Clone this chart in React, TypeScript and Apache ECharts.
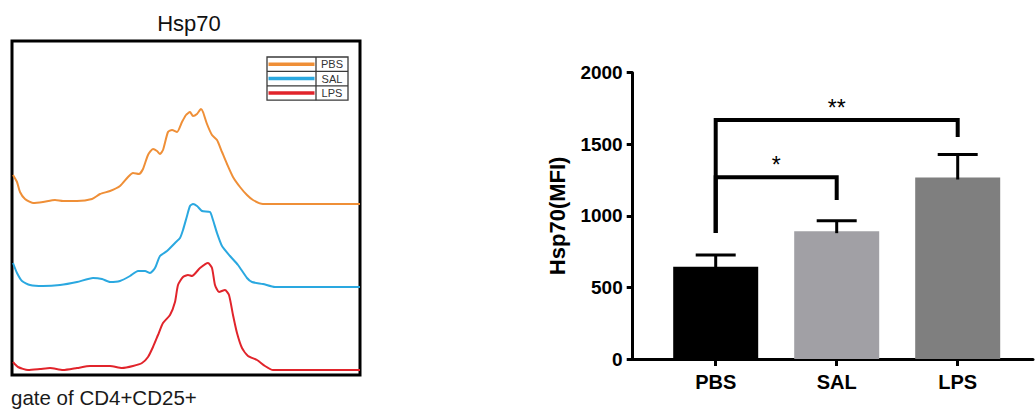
import React, { useEffect, useRef } from 'react';
import * as echarts from 'echarts';

// ---------- data ----------
const groups = ['PBS', 'SAL', 'LPS'];
const histColors = ['#ef8f37', '#2aa8e0', '#e1242b'];
// vertical offsets of each overlaid histogram (count units)
const histOffsets = [172, 89, 6];
// [channel, count above own baseline]
const pbsHist = [
  [2, 29], [6, 22], [9, 12], [14, 5], [22, 1], [32, 2], [44, 4], [52, 3], [66, 3], [81, 5], [89, 10],
  [99, 13], [109, 18], [117, 27], [122, 31], [128, 30], [132, 35], [137, 49], [142, 55], [146, 53],
  [149, 50], [152, 54], [157, 72], [161, 74], [166, 72], [171, 82], [175, 89], [179, 92], [182, 88],
  [186, 90], [190, 95], [192, 92], [196, 80], [201, 69], [206, 64], [211, 52], [216, 40], [222, 27],
  [229, 17], [236, 9], [242, 4], [252, 0], [349, 0],
];
const salHist = [
  [2, 24], [6, 14], [11, 6], [19, 2], [32, 1], [49, 2], [66, 5], [82, 9], [91, 8], [99, 5], [109, 6],
  [119, 11], [127, 16], [134, 16], [139, 14], [144, 19], [149, 31], [156, 36], [164, 44], [169, 49],
  [172, 57], [176, 71], [179, 81], [182, 83], [186, 81], [191, 76], [199, 75], [202, 67], [206, 54],
  [211, 41], [219, 31], [227, 22], [236, 9], [241, 5], [252, 3], [264, 0], [349, 0],
];
const lpsHist = [
  [2, 8], [7, 3], [17, 0], [29, 1], [39, 2], [52, 0], [66, 2], [79, 4], [89, 4], [99, 4], [111, 2],
  [122, 4], [131, 7], [137, 13], [142, 23], [147, 35], [152, 47], [159, 55], [164, 68], [167, 85],
  [172, 93], [177, 95], [181, 94], [189, 102], [197, 107], [201, 102], [204, 85], [208, 78], [214, 80],
  [218, 75], [222, 55], [226, 37], [231, 22], [237, 14], [246, 10], [254, 4], [262, 0], [349, 0],
];
const histograms = [pbsHist, salHist, lpsHist];

const barValues = [644, 893, 1268];
const barErrors = [82, 72, 160];
const barColors = ['#000000', '#a1a0a5', '#7f7f7f'];

const yMin = 0;
const yMax = 2000;
const yInterval = 500;

// significance brackets: [left group, right group]
const sigPairs = [[0, 1], [0, 2]];
const sigLevels = [1270, 1670];
const sigLeftEnds = [880, 880];
const sigRightEnds = [1110, 1550];
const sigLabels = ['*', '**'];
const sigLabelY = [1355, 1755];

const FONT = '"Liberation Sans", Arial, Helvetica, sans-serif';

export default function App() {
  const ref = useRef<HTMLDivElement>(null);

  useEffect(() => {
    if (!ref.current) return;
    const chart = echarts.init(ref.current, undefined, { renderer: 'svg' });

    const lineSeries = histograms.map((h, i) => ({
      name: groups[i],
      type: 'line',
      xAxisIndex: 0,
      yAxisIndex: 0,
      data: h.map(([x, c]) => [x, c + histOffsets[i]]),
      symbol: 'none',
      smooth: 0.2,
      lineStyle: { color: histColors[i], width: 2 },
      z: 2,
    }));

    const errorData = barValues.map((v, i) => [i, v, v + barErrors[i]]);
    const bracketData = sigPairs.map((p, i) => [p[0], p[1], sigLevels[i], sigLeftEnds[i], sigRightEnds[i], sigLabelY[i]]);

    const rowH = 14.4;
    const lgX = 267;
    const lgY = 57;
    const lgW = 81;
    const divX = 316;
    const legendEls: any[] = [
      {
        type: 'rect',
        shape: { x: lgX, y: lgY, width: lgW, height: rowH * 3 },
        style: { fill: '#ffffff', stroke: '#3a3a3a', lineWidth: 1.3 },
        z: 10,
      },
      {
        type: 'line',
        shape: { x1: divX, y1: lgY, x2: divX, y2: lgY + rowH * 3 },
        style: { stroke: '#3a3a3a', lineWidth: 1.3 },
        z: 11,
      },
    ];
    groups.forEach((g, i) => {
      if (i > 0) {
        legendEls.push({
          type: 'line',
          shape: { x1: lgX, y1: lgY + rowH * i, x2: lgX + lgW, y2: lgY + rowH * i },
          style: { stroke: '#3a3a3a', lineWidth: 1.3 },
          z: 11,
        });
      }
      const cy = lgY + rowH * (i + 0.5);
      legendEls.push({
        type: 'line',
        shape: { x1: lgX + 1.5, y1: cy, x2: divX - 1.5, y2: cy },
        style: { stroke: histColors[i], lineWidth: 3.5 },
        z: 12,
      });
      legendEls.push({
        type: 'text',
        x: (divX + lgX + lgW) / 2,
        y: cy,
        style: {
          text: g,
          fontSize: 11,
          fontFamily: FONT,
          fill: '#333333',
          textAlign: 'center',
          textVerticalAlign: 'middle',
        },
        z: 12,
      });
    });

    const option: any = {
      animation: false,
      backgroundColor: '#ffffff',
      textStyle: { fontFamily: FONT },
      grid: [
        { left: 12, top: 41, width: 348, height: 334, show: true, borderColor: '#000', borderWidth: 3, backgroundColor: 'transparent' },
        { left: 655.2, top: 72.7, width: 363, height: 286.3 },
        { left: 632.7, top: 72.7, width: 400.3, height: 286.3 },
      ],
      xAxis: [
        { type: 'value', gridIndex: 0, min: 1, max: 349, show: false },
        {
          type: 'category',
          gridIndex: 1,
          data: groups,
          axisLine: { show: false },
          axisTick: { show: true, alignWithLabel: true, length: 7, lineStyle: { color: '#000', width: 3 } },
          axisLabel: { color: '#000', fontSize: 20, fontWeight: 'bold', fontFamily: FONT, margin: 13 },
        },
        {
          type: 'value',
          gridIndex: 2,
          min: 0,
          max: 1,
          axisLine: { show: true, lineStyle: { color: '#000', width: 3 } },
          axisTick: { show: false },
          axisLabel: { show: false },
          splitLine: { show: false },
        },
      ],
      yAxis: [
        { type: 'value', gridIndex: 0, min: 1, max: 335, show: false },
        { type: 'value', gridIndex: 1, min: yMin, max: yMax, show: false },
        {
          type: 'value',
          gridIndex: 2,
          min: yMin,
          max: yMax,
          interval: yInterval,
          name: 'Hsp70(MFI)',
          nameLocation: 'middle',
          nameRotate: 90,
          nameGap: 64,
          nameTextStyle: { color: '#000', fontSize: 22, fontWeight: 'bold', fontFamily: FONT },
          axisLine: { show: true, lineStyle: { color: '#000', width: 3 } },
          axisTick: { show: true, length: 6, lineStyle: { color: '#000', width: 3 } },
          axisLabel: {
            color: '#000',
            fontSize: 19,
            fontWeight: 'bold',
            fontFamily: FONT,
            margin: 10,
            formatter: (v: number) => String(v),
          },
          splitLine: { show: false },
        },
      ],
      graphic: [
        {
          type: 'text',
          x: 189,
          y: 23,
          style: { text: 'Hsp70', fontSize: 22, fontFamily: FONT, fill: '#111', textAlign: 'center', textVerticalAlign: 'middle' },
        },
        {
          type: 'text',
          x: 11,
          y: 397,
          style: { text: 'gate of CD4+CD25+', fontSize: 20.5, fontFamily: FONT, fill: '#1a1a1a', textAlign: 'left', textVerticalAlign: 'middle' },
        },
        { type: 'group', children: legendEls },
      ],
      series: [
        ...lineSeries,
        {
          type: 'bar',
          xAxisIndex: 1,
          yAxisIndex: 1,
          barWidth: 85,
          data: barValues.map((v, i) => ({ value: v, itemStyle: { color: barColors[i] } })),
          z: 2,
        },
        {
          type: 'custom',
          xAxisIndex: 1,
          yAxisIndex: 1,
          data: errorData,
          clip: false,
          z: 3,
          renderItem: (params: any, api: any) => {
            const i = api.value(0);
            const base = api.coord([i, api.value(1)]);
            const top = api.coord([i, api.value(2)]);
            const half = 20;
            return {
              type: 'group',
              children: [
                { type: 'line', shape: { x1: base[0], y1: base[1] + 2, x2: top[0], y2: top[1] }, style: { stroke: '#000', lineWidth: 3 } },
                { type: 'line', shape: { x1: top[0] - half, y1: top[1], x2: top[0] + half, y2: top[1] }, style: { stroke: '#000', lineWidth: 3 } },
              ],
            };
          },
        },
        {
          type: 'custom',
          xAxisIndex: 1,
          yAxisIndex: 1,
          data: bracketData,
          clip: false,
          z: 4,
          renderItem: (params: any, api: any) => {
            const a = api.value(0);
            const b = api.value(1);
            const lvl = api.value(2);
            const pA = api.coord([a, api.value(3)]);
            const pAL = api.coord([a, lvl]);
            const pBL = api.coord([b, lvl]);
            const pB = api.coord([b, api.value(4)]);
            const pT = api.coord([a, api.value(5)]);
            return {
              type: 'group',
              children: [
                {
                  type: 'polyline',
                  shape: { points: [pA, pAL, pBL, pB] },
                  style: { stroke: '#000', lineWidth: 4, fill: null, lineJoin: 'miter' },
                },
                {
                  type: 'text',
                  x: (pAL[0] + pBL[0]) / 2,
                  y: pT[1],
                  style: {
                    text: sigLabels[params.dataIndex],
                    fontSize: 23,
                    fontFamily: FONT,
                    fill: '#000',
                    textAlign: 'center',
                    textVerticalAlign: 'middle',
                  },
                },
              ],
            };
          },
        },
      ],
    };

    chart.setOption(option);
    return () => {
      chart.dispose();
    };
  }, []);

  return (
    <div
      ref={ref}
      style={{ position: 'fixed', left: 0, top: 0, width: 1035, height: 410, background: '#fff' }}
    />
  );
}
